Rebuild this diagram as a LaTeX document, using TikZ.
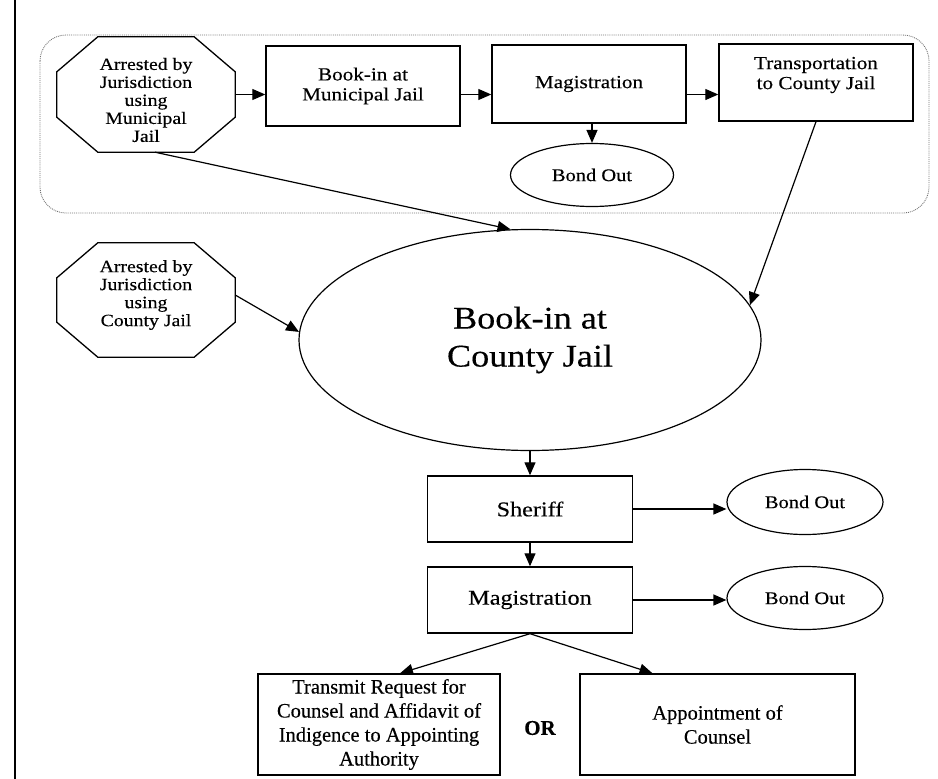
\documentclass[tikz,border=0pt]{standalone}
\usepackage{fontspec}
\setmainfont{Liberation Serif}[FakeStretch=1.15,FakeBold=0.3]
\newfontfamily\plainserif{Liberation Serif}[FakeBold=0.3]
\usetikzlibrary{shapes.geometric,arrows.meta,calc}
\newcommand\octdraw[1]{\draw[line width=1.3pt] ($(#1.north west)+(41,0)$) -- ($(#1.north east)+(-41,0)$) -- ($(#1.north east)+(0,35)$) -- ($(#1.south east)+(0,-35)$) -- ($(#1.south east)+(-41,0)$) -- ($(#1.south west)+(41,0)$) -- ($(#1.south west)+(0,-35)$) -- ($(#1.north west)+(0,35)$) -- cycle;}
\begin{document}
\begin{tikzpicture}[x=1pt,y=-1pt,
  box/.style={draw,line width=1.4pt,inner sep=0pt,align=center},
  oval/.style={draw,ellipse,line width=1.2pt,inner sep=0pt,align=center},
  octo/.style={inner sep=0pt,minimum width=178pt,minimum height=115pt},
  txt/.style={inner sep=0pt,align=center},
  arr/.style={line width=1.2pt,-{Triangle[length=13pt,width=11pt]}},
  fOct/.style={font=\fontsize{17.2}{18}\selectfont},
  fTop/.style={font=\fontsize{18.4}{20}\selectfont},
  fBig/.style={font=\fontsize{31.5}{38}\selectfont},
  fMid/.style={font=\fontsize{21}{24}\selectfont},
  fBond/.style={font=\fontsize{17.8}{20}\selectfont},
  fLow/.style={font=\plainserif\fontsize{20.5}{24}\selectfont},
]
\useasboundingbox (0,0) rectangle (938,779);
% left rule
\draw[line width=2.8pt] (15,0) -- (15,779);
% dotted group frame
\draw[black!55,densely dotted,line width=0.9pt,rounded corners=26pt] (40,35) rectangle (929,213);

% municipal row
\node[octo] (OctM) at (146,94.5) {};
\octdraw{OctM}
\node[txt,fOct] (OctMt) at (146,100) {Arrested by\\Jurisdiction\\using\\Municipal\\Jail};
\node[box,fTop,minimum width=194pt,minimum height=80pt] (BM) at (363,86) {Book-in at\\Municipal Jail};
\node[box,fTop,minimum width=194pt,minimum height=78pt] (Mag1) at (589,84) {Magistration};
\node[box,minimum width=194pt,minimum height=77pt] (Trans) at (816,82.5) {};
\node[txt,fTop] (Transt) at (816,75) {Transportation\\to County Jail};
\node[oval,fBond,minimum width=163pt,minimum height=63pt] (BO1) at (592,175) {Bond Out};

% county octagon
\node[octo,minimum height=114pt] (OctC) at (146,300) {};
\octdraw{OctC}
\node[txt,fOct] (OctCt) at (146,295) {Arrested by\\Jurisdiction\\using\\County Jail};

% big ellipse
\node[oval,fBig,minimum width=462pt,minimum height=221pt] (BigE) at (530,340) {Book-in at\\County Jail};

% lower chain
\node[box,fMid,minimum width=205pt,minimum height=66pt] (Sher) at (530,509) {Sheriff};
\node[oval,fBond,minimum width=156pt,minimum height=65pt] (BO2) at (805,502) {Bond Out};
\node[box,fMid,minimum width=205pt,minimum height=66pt] (Mag2) at (530,600) {Magistration};
\node[oval,fBond,minimum width=156pt,minimum height=63pt] (BO3) at (805,598) {Bond Out};

\node[box,fLow,minimum width=242pt,minimum height=101pt] (Tr) at (379,724.5) {Transmit Request for\\Counsel and Affidavit of\\Indigence to Appointing\\Authority};
\node[box,fLow,minimum width=275pt,minimum height=101pt] (App) at (717.5,724.5) {Appointment of\\Counsel};
\node[txt,font=\plainserif\bfseries\fontsize{21}{24}\selectfont] (OR) at (540,728) {OR};

% connectors
\draw[arr] (OctM.east) -- (OctM.east -| BM.west);
\draw[arr] (BM.east |- OctM.east) -- (Mag1.west |- OctM.east);
\draw[arr] (Mag1.east |- OctM.east) -- (Trans.west |- OctM.east);
\draw[arr] (Mag1.south -| BO1.north) -- (BO1.north);
\draw[arr] ($(OctM.south)+(9,0)$) -- (BigE.100);
\draw[arr] (Trans.south) -- (BigE.9);
\draw[arr] ($(OctC.east)+(0,-5)$) -- (BigE.178);
\draw[arr] (BigE.south) -- (Sher.north);
\draw[arr] (Sher.east) -- (BO2.west |- Sher.east);
\draw[arr] (Sher.south) -- (Mag2.north);
\draw[arr] (Mag2.east) -- (BO3.west |- Mag2.east);
\draw[arr] (Mag2.south) -- ($(Tr.north)+(21,0)$);
\draw[arr] (Mag2.south) -- ($(App.north)+(-65,0)$);
\end{tikzpicture}
\end{document}
